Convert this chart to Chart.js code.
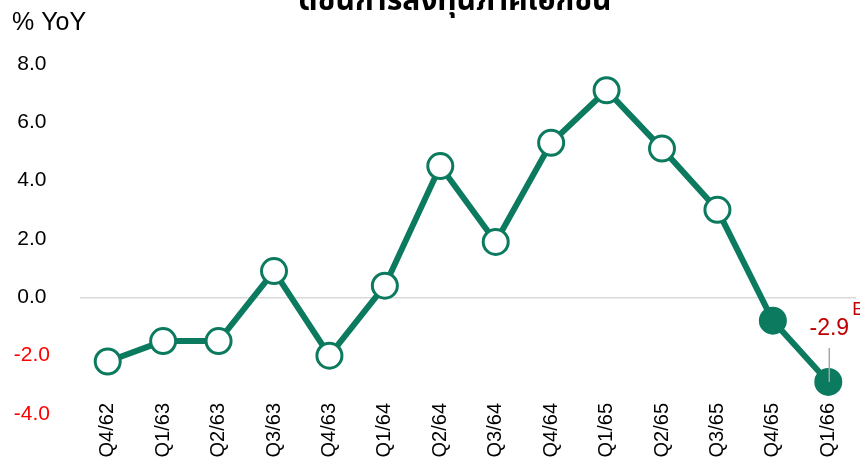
<!DOCTYPE html>
<html>
<head>
<meta charset="utf-8">
<script src="https://cdn.jsdelivr.net/npm/chart.js@4/dist/chart.umd.min.js"></script>
<style>
html,body{margin:0;padding:0;background:#fff;}
#wrap{width:860px;height:463px;position:relative;}
</style>
</head>
<body>
<div id="wrap"><canvas id="c" width="860" height="463"></canvas></div>
<script>
const categories = ['Q4/62','Q1/63','Q2/63','Q3/63','Q4/63','Q1/64','Q2/64','Q3/64','Q4/64','Q1/65','Q2/65','Q3/65','Q4/65','Q1/66'];
const yoyValues = [-2.2, -1.5, -1.5, 0.9, -2.0, 0.4, 4.5, 1.9, 5.3, 7.1, 5.1, 3.0, -0.8, -2.9];
const filledPoints = [false,false,false,false,false,false,false,false,false,false,false,false,true,true];
const yTicks = [-4, -2, 0, 2, 4, 6, 8];
const titleText = 'ดัชนีการลงทุนภาคเอกชน';
const unitText = '% YoY';
const lastLabel = '-2.9';
const lastSup = 'E';

const green = '#0b7a5e';
const FONT = '"Liberation Sans", Arial, Helvetica, sans-serif';

const overlay = {
  id: 'overlay',
  afterDraw(chart) {
    const ctx = chart.ctx;
    const x = chart.scales.x, y = chart.scales.y;
    ctx.save();
    // title (clipped at top like the reference)
    ctx.fillStyle = '#000';
    ctx.font = 'bold 30px "Noto Sans", "Noto Sans Thai", "Loma", sans-serif';
    ctx.textAlign = 'center';
    ctx.textBaseline = 'alphabetic';
    ctx.fillText(titleText, 455, 10);
    // unit label
    ctx.font = '25px ' + FONT;
    ctx.textAlign = 'left';
    ctx.fillText(unitText, 12, 30);
    // category labels, rotated, read bottom-to-top
    ctx.font = '20px ' + FONT;
    ctx.fillStyle = '#000';
    categories.forEach((c, i) => {
      const px = x.getPixelForValue(i);
      ctx.save();
      ctx.translate(px, 403);
      ctx.rotate(-Math.PI / 2);
      ctx.textAlign = 'right';
      ctx.textBaseline = 'middle';
      ctx.fillText(c, 0, 0);
      ctx.restore();
    });
    // annotation for last point
    const n = yoyValues.length - 1;
    const px = x.getPixelForValue(n);
    const py = y.getPixelForValue(yoyValues[n]);
    ctx.strokeStyle = '#a6a6a6';
    ctx.lineWidth = 1.5;
    ctx.beginPath();
    ctx.moveTo(px + 1, py - 34);
    ctx.lineTo(px + 1, py);
    ctx.stroke();
    ctx.fillStyle = '#c00000';
    ctx.font = '23px ' + FONT;
    ctx.textAlign = 'center';
    ctx.textBaseline = 'alphabetic';
    ctx.fillText(lastLabel, px + 1, py - 47);
    ctx.font = '18px ' + FONT;
    ctx.textAlign = 'left';
    ctx.fillText(lastSup, px + 24, py - 67);
    ctx.restore();
  }
};

new Chart(document.getElementById('c'), {
  type: 'line',
  data: {
    labels: categories,
    datasets: [{
      data: yoyValues,
      borderColor: green,
      borderWidth: 6,
      pointRadius: 12.5,
      pointHoverRadius: 12.5,
      pointBorderWidth: 3,
      pointBorderColor: green,
      pointBackgroundColor: filledPoints.map(f => f ? green : '#ffffff'),
      tension: 0,
      clip: false
    }]
  },
  options: {
    responsive: false,
    animation: false,
    events: [],
    layout: { autoPadding: false, padding: { top: 64, left: 0, right: 4, bottom: 49 } },
    plugins: { legend: { display: false }, tooltip: { enabled: false }, title: { display: false } },
    scales: {
      x: {
        offset: true,
        grid: { display: false, drawTicks: false },
        border: { display: false },
        ticks: { display: false }
      },
      y: {
        min: -4, max: 8,
        afterBuildTicks(scale) { scale.ticks = yTicks.map(v => ({ value: v })); },
        afterFit(scale) { scale.width = 80; },
        grid: {
          drawTicks: false,
          color: ctx => (ctx.tick && ctx.tick.value === 0) ? '#d9d9d9' : 'rgba(0,0,0,0)',
          lineWidth: 1.5
        },
        border: { display: false },
        ticks: {
          padding: 30,
          crossAlign: 'center',
          color: ctx => ctx.tick.value < 0 ? '#ff0000' : '#000',
          font: { family: FONT, size: 21 },
          callback: v => v.toFixed(1)
        }
      }
    }
  },
  plugins: [overlay]
});
</script>
</body>
</html>
